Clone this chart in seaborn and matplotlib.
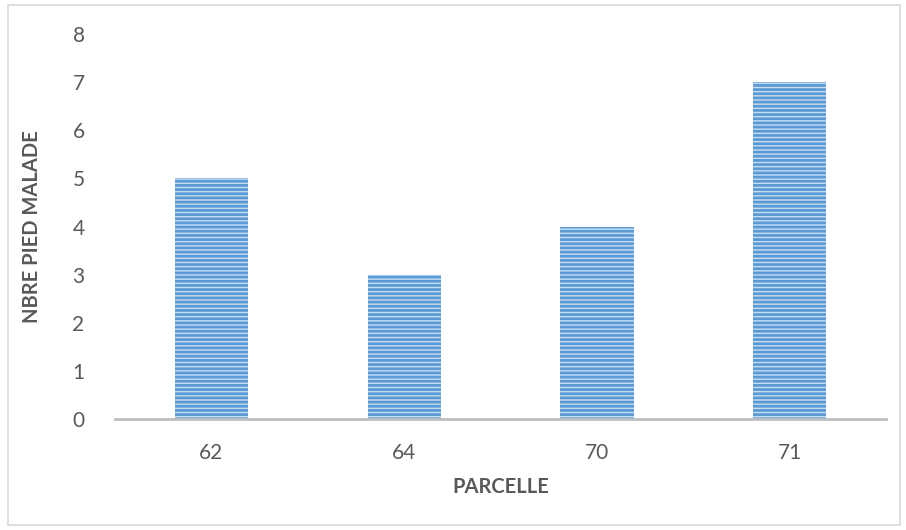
import matplotlib
matplotlib.use('Agg')
import matplotlib.pyplot as plt
import matplotlib.patches as mpatches
import pandas as pd
import seaborn as sns

parcelles = ['62', '64', '70', '71']
nb_malades = [5, 3, 4, 7]

sns.set_theme(style='white')
plt.rcParams['font.family'] = ['Lato', 'DejaVu Sans']
plt.rcParams['hatch.linewidth'] = 2.0

df = pd.DataFrame({'Parcelle': parcelles, 'Malade': nb_malades})

fig = plt.figure(figsize=(9.06, 5.3), dpi=100)
ax = fig.add_axes([0.127, 0.2094, 0.851, 0.7264])

sns.barplot(data=df, x='Parcelle', y='Malade', ax=ax, width=0.38,
            color='#c9ddf2', edgecolor='#5b9bd5', linewidth=0, hatch='----',
            saturation=1)

ax.set_ylim(0, 8)
ax.set_xlim(-0.5, 3.5)
ax.set_yticks(range(0, 9))
for s in ['top', 'right', 'left']:
    ax.spines[s].set_visible(False)
ax.spines['bottom'].set_color('#bfbfbf')
ax.spines['bottom'].set_linewidth(2)
ax.tick_params(axis='both', length=0, labelsize=15, labelcolor='#595959')
ax.tick_params(axis='y', pad=22)
ax.tick_params(axis='x', pad=17)
ax.set_xlabel('PARCELLE', fontsize=14.5, fontweight='bold', color='#595959', labelpad=10)
ax.set_ylabel('NBRE PIED MALADE', fontsize=14.5, fontweight='bold', color='#595959', labelpad=22)

border = mpatches.Rectangle((8 / 906, 5 / 530), 892 / 906, 520 / 530, transform=fig.transFigure,
                            fill=False, edgecolor='#d9d9d9', linewidth=1.2)
fig.patches.append(border)

fig.savefig('out.png', dpi=100)
